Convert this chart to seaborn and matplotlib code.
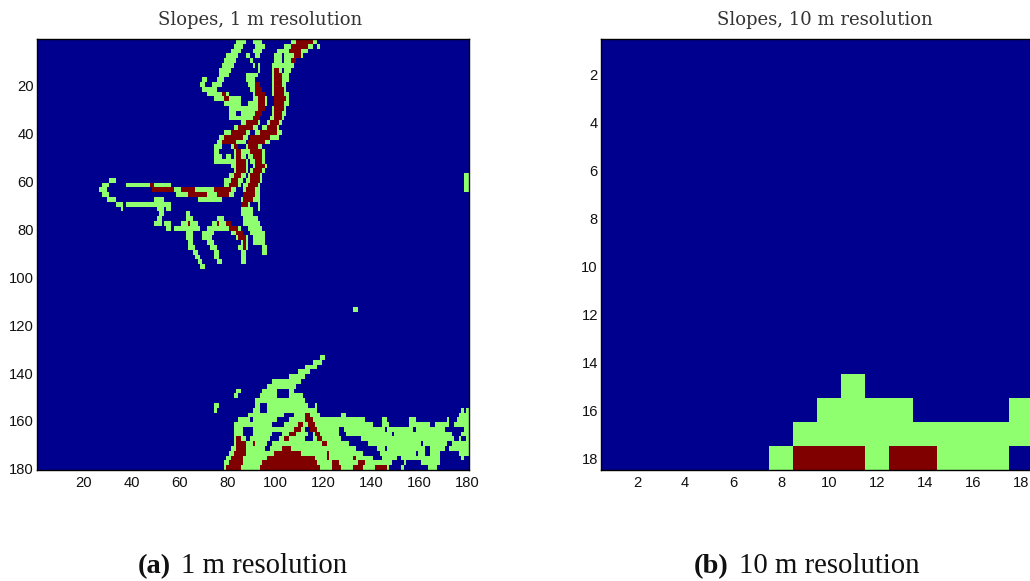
import numpy as np
import matplotlib
matplotlib.use("Agg")
import matplotlib.pyplot as plt
from matplotlib.colors import ListedColormap
import seaborn as sns

# class colours, jet low / mid / high
class_colors = ["#00008f", "#8fff70", "#800000"]

tick_1m = [20, 40, 60, 80, 100, 120, 140, 160, 180]
tick_10m = [2, 4, 6, 8, 10, 12, 14, 16, 18]

# 1 m map read by eye: every entry covers two rows, runs are painted in order
# g = gentle slope, m = steep slope, b = flat. start-stop in cell numbers
slopes_1m = {
    1: "g84-88 g91-95 g107-118 m109-116",
    3: "g83-87 g92-96 g104-116 m107-114 g118-119",
    5: "g82-86 g91-95 g101-114 m106-111",
    7: "g80-85 g88-90 g92-94 g100-112 m108-111 b103-104",
    9: "g79-84 g90-91 g100-109 m107-109 b103-104",
    11: "g78-83 g91-92 g93-94 g99-108",
    13: "g77-82 g93-94 g99-107 m100-102 b103-104",
    15: "g77-81 g88-93 g99-106 m100-103",
    17: "g70-72 g76-79 g88-92 g99-106 m100-103",
    19: "g69-71 g74-78 g89-94 m92-94 g99-105 m100-103",
    21: "g70-76 g90-95 m92-95 g99-105 m100-104",
    23: "g72-81 m78-80 g91-96 m92-96 g99-106 m100-104",
    25: "g75-86 m79-81 g91-97 m93-96 g100-106 m100-105",
    27: "g79-86 g89-97 m93-96 g100-106 m100-104",
    29: "g81-96 m93-96 g99-105 m100-104",
    31: "g81-84 g86-95 m92-95 g99-105 m100-103",
    33: "g81-94 m91-94 g98-104 m100-103",
    35: "g86-94 m88-93 g97-103 m98-102",
    37: "g83-93 m85-91 g95-102 m97-101",
    39: "g79-90 m82-88 g92-103 m94-101",
    41: "g77-89 m79-87 g90-102 m90-98",
    43: "g76-88 m78-84 g89-98 m89-96",
    45: "g75-78 g82-85 m83-85 g88-95 m89-93",
    47: "g75-77 g83-88 m84-86 g88-96 m90-95",
    49: "g75-78 g80-82 g83-88 m84-86 g89-96 m91-95",
    51: "g75-83 g83-89 m84-88 g90-96 m92-95",
    53: "g82-89 m84-88 g91-97 m92-96",
    55: "g83-89 m84-88 g90-96 m91-95",
    57: "g81-88 m83-86 g89-95 m90-94 g179-181",
    59: "g31-34 g79-87 m82-85 g88-95 m90-94 g179-181",
    61: "g28-31 g38-57 m48-50 g79-86 m81-85 g87-94 m89-93 g179-181",
    63: "g27-30 m49-58 g58-61 m61-67 g67-75 m75-82 g82-84 g87-94 m88-92 g179-181",
    65: "g28-31 g59-83 m64-72 m76-81 g87-94 m87-92",
    67: "g30-34 g50-54 g68-78 g86-94 m87-91",
    69: "g34-37 g38-57 g86-90 m86-89 g93-94",
    71: "g36-37 g51-54 g55-57 g86-91 g93-94",
    73: "g52-54 g63-65 g86-91",
    75: "g51-53 g63-66 g76-79 g87-93",
    77: "g50-53 g54-57 g61-68 m64-65 g74-82 m76-77 m80-82 g87-94",
    79: "g55-57 g58-69 g72-86 m81-85 g89-95",
    81: "g63-66 g70-75 g82-87 m84-87 g90-96",
    83: "g63-66 g70-74 g84-89 m85-88 g91-96",
    85: "g64-66 g72-75 g86-89 m87-88 g91-96",
    87: "g64-67 g73-76 g85-89 m87-88 g95-97",
    89: "g66-68 g75-77 g86-88 g95-97",
    91: "g67-69 g75-77 g86-88",
    93: "g68-70 g76-78 g86-88",
    95: "g69-71",
    113: "g133-135",
    133: "g119-121",
    135: "g116-120",
    137: "g113-118",
    139: "g110-115",
    141: "g106-113",
    143: "g99-111",
    145: "g97-109",
    147: "g84-86 g95-108 b101-106",
    149: "g83-85 g94-112 b101-106",
    151: "g92-113",
    153: "g75-77 g92-114 g117-118 b94-97",
    155: "g75-76 g91-118 b94-97 g178-179 g180-181",
    157: "g89-119 b104-108 m113-115 g128-130 g177-181",
    159: "g85-138 b90-91 b101-106 m113-116 g145-147 g156-159 g172-173 g176-181",
    161: "g83-141 b99-104 m110-112 m114-117 g145-148 g156-165 g167-173 g175-181",
    163: "g83-181 b87-91 m108-111 b113-115 m115-118 b127-129 b146-147 b158-159 b171-179",
    165: "g83-181 b87-91 b99-103 m106-109 b114-116 m117-119 b127-130 b149-150 b174-178",
    167: "g83-181 m84-86 b88-90 b98-102 m104-106 b113-116 m118-120 b128-136 b175-177 b178-180",
    169: "g83-181 m84-88 m91-92 b97-99 m120-122 b131-139 b161-162 b172-174",
    171: "g82-181 m84-88 b96-98 m103-107 b134-143 b146-147 b163-165 b171-173",
    173: "g81-181 m83-88 m100-111 m122-123 b137-144 b159-160 b163-165 b169-177",
    175: "g80-181 m82-87 m97-117 m122-123 m133-134 b141-145 b151-153 b169-178 b179-181",
    177: "g79-181 m81-87 m95-118 m124-127 m135-138 b149-154 b155-161 b169-179 b179-181",
    179: "g79-181 m80-86 m94-119 m124-128 m133-137 m142-147 b148-153 b154-164 b168-181",
}

# 10 m map, one string per row from row 15 down
slopes_10m = {
    15: "000000000010000000",
    16: "000000000111100001",
    17: "000000001111111111",
    18: "000000012221221110",
}


def build_1m():
    grid = np.zeros((180, 180), dtype=int)
    codes = {"b": 0, "g": 1, "m": 2}
    for row, runs in slopes_1m.items():
        for run in runs.split():
            start, stop = run[1:].split("-")
            grid[row - 1:row + 1, int(start) - 1:int(stop) - 1] = codes[run[0]]
    return grid


def build_10m():
    grid = np.zeros((18, 18), dtype=int)
    for row, cells in slopes_10m.items():
        grid[row - 1] = [int(c) for c in cells]
    return grid


W, H = 1030, 581
fig = plt.figure(figsize=(W / 100, H / 100), dpi=100)
sns.set_style("white")
cmap = ListedColormap(class_colors)


def draw_panel(grid, ticks, box):
    x0, y0, x1, y1 = box
    ax = fig.add_axes([x0 / W, 1 - y1 / H, (x1 - x0) / W, (y1 - y0) / H])
    sns.heatmap(grid, ax=ax, cmap=cmap, vmin=0, vmax=2, cbar=False,
                xticklabels=False, yticklabels=False)
    ax.set_xticks([t - 0.5 for t in ticks])
    ax.set_yticks([t - 0.5 for t in ticks])
    ax.set_xticklabels(ticks)
    ax.set_yticklabels(ticks, rotation=0)
    ax.tick_params(direction="in", length=3, width=0.6, top=True, right=True,
                   left=True, bottom=True, labelsize=10.6, color="black",
                   labelcolor="#111111")
    ax.tick_params(axis="x", pad=4.5)
    ax.tick_params(axis="y", pad=2.2)
    for label in ax.get_xticklabels() + ax.get_yticklabels():
        label.set_family("Liberation Sans")
    for spine in ax.spines.values():
        spine.set_visible(True)
        spine.set_color("black")
        spine.set_linewidth(1.0)
    return ax


draw_panel(build_1m(), tick_1m, (37, 39, 468.5, 470))
draw_panel(build_10m(), tick_10m, (601, 39, 1033, 470))


def put(x, y, s, **kw):
    fig.text(x / W, 1 - y / H, s, **kw)


put(260, 25, "Slopes, 1 m resolution", family="DejaVu Serif", fontsize=13, ha="center", va="baseline", color="#333333")
put(824.5, 25, "Slopes, 10 m resolution", family="DejaVu Serif", fontsize=13, ha="center", va="baseline", color="#333333")

serif = "Liberation Serif"
put(138, 573, "(a)", family=serif, fontsize=20.5, fontweight="bold", va="baseline", color="#111111")
put(181, 573, "1 m resolution", family=serif, fontsize=20.7, va="baseline", color="#111111")
put(694, 573, "(b)", family=serif, fontsize=20.5, fontweight="bold", va="baseline", color="#111111")
put(739, 573, "10 m resolution", family=serif, fontsize=20.7, va="baseline", color="#111111")

fig.savefig("out.png", dpi=100)
